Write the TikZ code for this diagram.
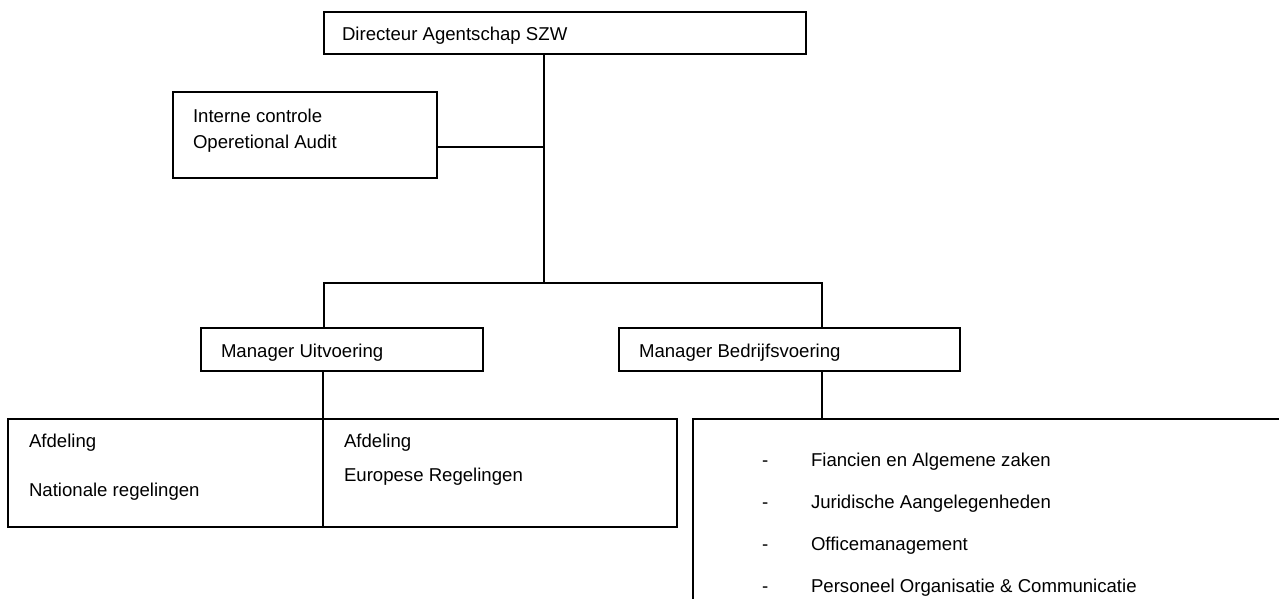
\documentclass[tikz,border=0pt]{standalone}
\usepackage{fontspec}
\setmainfont{Liberation Sans}
\begin{document}
\begin{tikzpicture}[x=1pt,y=-1pt,
  box/.style={draw=black,line width=1.5pt,rectangle,inner sep=0pt,outer sep=0pt},
  txt/.style={anchor=base west,inner sep=0pt,outer sep=0pt,font=\fontsize{18.6}{22}\selectfont},
  conn/.style={draw=black,line width=1.5pt,line cap=rect}]
\useasboundingbox (0,0) rectangle (1279,599);
\clip (0,0) rectangle (1279,599);
% boxes
\node[box,anchor=north west,minimum width=482pt,minimum height=42pt] (dir) at (324,12) {};
\node[box,anchor=north west,minimum width=264pt,minimum height=86pt] (ic) at (173,92) {};
\node[box,anchor=north west,minimum width=282pt,minimum height=43pt] (mu) at (201,328) {};
\node[box,anchor=north west,minimum width=341pt,minimum height=43pt] (mb) at (619,328) {};
\node[box,anchor=north west,minimum width=315pt,minimum height=108pt] (afn) at (8,419) {};
\node[box,anchor=north west,minimum width=354pt,minimum height=108pt] (afe) at (323,419) {};
\node[box,anchor=north west,minimum width=700pt,minimum height=300pt] (rb) at (693,419) {};
% texts
\node[txt] (tdir) at (342,41) {Directeur Agentschap SZW};
\node[txt] (tic1) at (193,123) {Interne controle};
\node[txt] (tic2) at (193,148) {Operetional Audit};
\node[txt] (tmu) at (221,357) {Manager Uitvoering};
\node[txt] (tmb) at (639,357) {Manager Bedrijfsvoering};
\node[txt] (tafn1) at (29,447) {Afdeling};
\node[txt] (tafn2) at (29,496) {Nationale regelingen};
\node[txt] (tafe1) at (344,447) {Afdeling};
\node[txt] (tafe2) at (344,481) {Europese Regelingen};
\node[txt] (d1) at (762,466) {-};
\node[txt] (l1) at (811,466) {Fiancien en Algemene zaken};
\node[txt] (d2) at (762,508) {-};
\node[txt] (l2) at (811,508) {Juridische Aangelegenheden};
\node[txt] (d3) at (762,550) {-};
\node[txt] (l3) at (811,550) {Officemanagement};
\node[txt] (d4) at (762,592) {-};
\node[txt] (l4) at (811,592) {Personeel Organisatie \& Communicatie};
% connectors
\coordinate (t1) at (544,283);
\coordinate (j1) at (544,147);
\coordinate (hl) at (324,283);
\coordinate (hr) at (822,283);
\draw[conn] (dir.south -| t1) -- (t1);
\draw[conn] (ic.east |- j1) -- (j1);
\draw[conn] (mu.north -| hl) -- (hl) -- (hr) -- (mb.north -| hr);
\draw[conn] (mu.south -| afe.north west) -- (afe.north west);
\draw[conn] (mb.south -| hr) -- (rb.north -| hr);
\end{tikzpicture}
\end{document}
